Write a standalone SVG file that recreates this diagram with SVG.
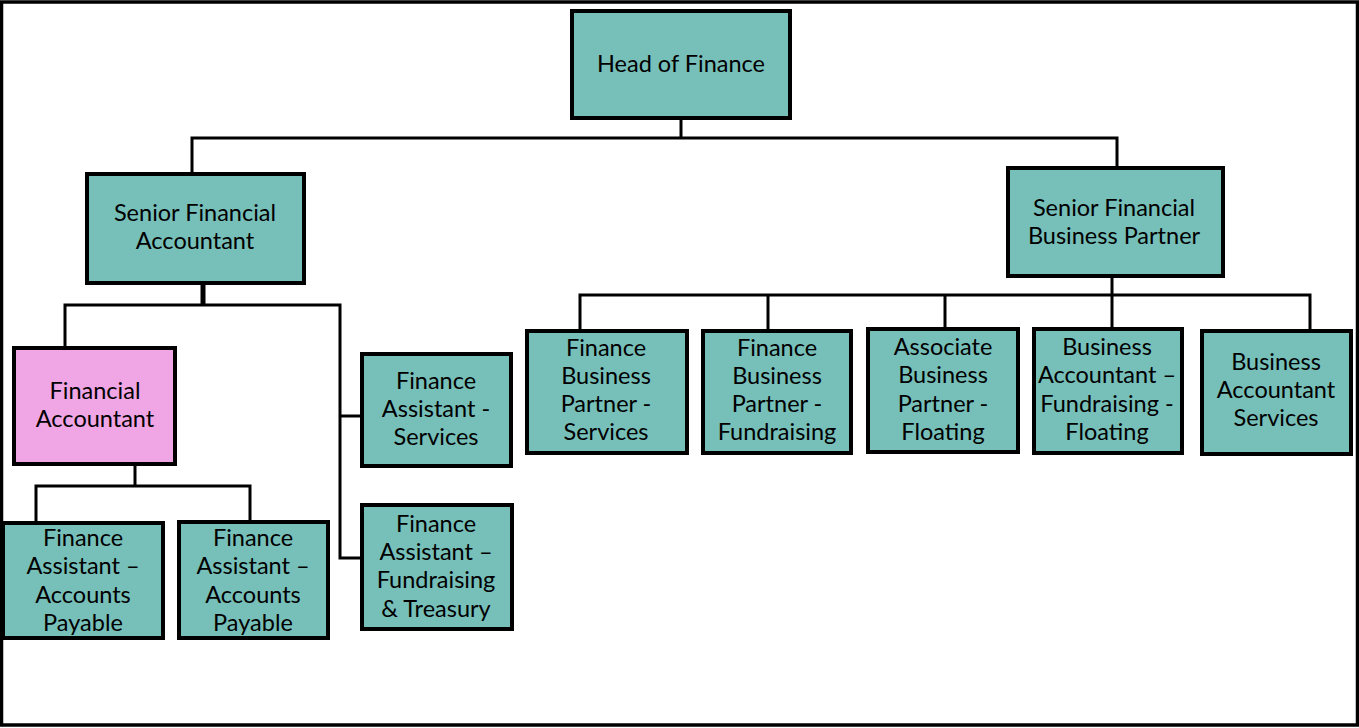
<svg xmlns="http://www.w3.org/2000/svg" width="1359" height="728" viewBox="0 0 1359 728">
<style>
.n{fill:#77BFB9;stroke:#000;stroke-width:4}
.p{fill:#F0A6E4;stroke:#000;stroke-width:4}
.c{fill:none;stroke:#000;stroke-width:3;stroke-linejoin:miter}
text{font-family:Lato,"Liberation Sans",sans-serif;font-size:23.5px;fill:#000;text-anchor:middle}
</style>
<rect x="0" y="0" width="1359" height="728" fill="#fff"/>
<rect x="1.5" y="2" width="1356" height="723" fill="none" stroke="#000" stroke-width="3.5"/>
<g id="connectors">
<polyline class="c" points="192,172 192,138 1117,138 1117,167"/>
<line class="c" x1="681" y1="118" x2="681" y2="138"/>
<line x1="203" y1="284" x2="203" y2="305" stroke="#000" stroke-width="5"/>
<polyline class="c" points="65,347 65,305 340,305 340,558 361,558"/>
<line class="c" x1="340" y1="416" x2="361" y2="416"/>
<line class="c" x1="135" y1="465" x2="135" y2="486"/>
<polyline class="c" points="36,522 36,486 250,486 250,521"/>
<line class="c" x1="1112" y1="277" x2="1112" y2="329"/>
<polyline class="c" points="580,330 580,295 1310,295 1310,330"/>
<line class="c" x1="768" y1="295" x2="768" y2="330"/>
<line class="c" x1="945" y1="295" x2="945" y2="328"/>
</g>
<g id="head">
<rect class="n" x="572" y="11" width="218" height="107"/>
<text x="681" y="72">Head of Finance</text>
</g>
<g id="sfa">
<rect class="n" x="87" y="174" width="217" height="109"/>
<text x="195" y="221">Senior Financial</text>
<text x="195" y="249">Accountant</text>
</g>
<g id="sfbp">
<rect class="n" x="1008" y="168" width="215" height="108"/>
<text x="1114" y="216">Senior Financial</text>
<text x="1114" y="244">Business Partner</text>
</g>
<g id="fa">
<rect class="p" x="14" y="348" width="161" height="116"/>
<text x="95" y="399">Financial</text>
<text x="95" y="427">Accountant</text>
</g>
<g id="fa-services">
<rect class="n" x="362" y="354" width="149" height="112"/>
<text x="436" y="389">Finance</text>
<text x="436" y="417">Assistant -</text>
<text x="436" y="445">Services</text>
</g>
<g id="fa-treasury">
<rect class="n" x="362" y="505" width="150" height="124"/>
<text x="436" y="532">Finance</text>
<text x="436" y="560">Assistant –</text>
<text x="436" y="588">Fundraising</text>
<text x="436" y="617">&amp; Treasury</text>
</g>
<g id="ap1">
<rect class="n" x="3" y="523" width="160" height="115"/>
<text x="83" y="546">Finance</text>
<text x="83" y="574">Assistant –</text>
<text x="83" y="603">Accounts</text>
<text x="83" y="631">Payable</text>
</g>
<g id="ap2">
<rect class="n" x="179" y="522" width="149" height="116"/>
<text x="253" y="546">Finance</text>
<text x="253" y="574">Assistant –</text>
<text x="253" y="603">Accounts</text>
<text x="253" y="631">Payable</text>
</g>
<g id="fbp-services">
<rect class="n" x="527" y="331" width="160" height="122"/>
<text x="606" y="356">Finance</text>
<text x="606" y="384">Business</text>
<text x="606" y="412">Partner -</text>
<text x="606" y="440">Services</text>
</g>
<g id="fbp-fundraising">
<rect class="n" x="703" y="331" width="148" height="122"/>
<text x="777" y="356">Finance</text>
<text x="777" y="384">Business</text>
<text x="777" y="412">Partner -</text>
<text x="777" y="440">Fundraising</text>
</g>
<g id="abp-floating">
<rect class="n" x="868" y="329" width="150" height="123"/>
<text x="943" y="355">Associate</text>
<text x="943" y="383">Business</text>
<text x="943" y="412">Partner -</text>
<text x="943" y="440">Floating</text>
</g>
<g id="ba-fundraising">
<rect class="n" x="1034" y="329" width="148" height="124"/>
<text x="1107" y="355">Business</text>
<text x="1107" y="383">Accountant –</text>
<text x="1107" y="412">Fundraising -</text>
<text x="1107" y="440">Floating</text>
</g>
<g id="ba-services">
<rect class="n" x="1202" y="331" width="149" height="123"/>
<text x="1276" y="370">Business</text>
<text x="1276" y="398">Accountant</text>
<text x="1276" y="426">Services</text>
</g>
</svg>
